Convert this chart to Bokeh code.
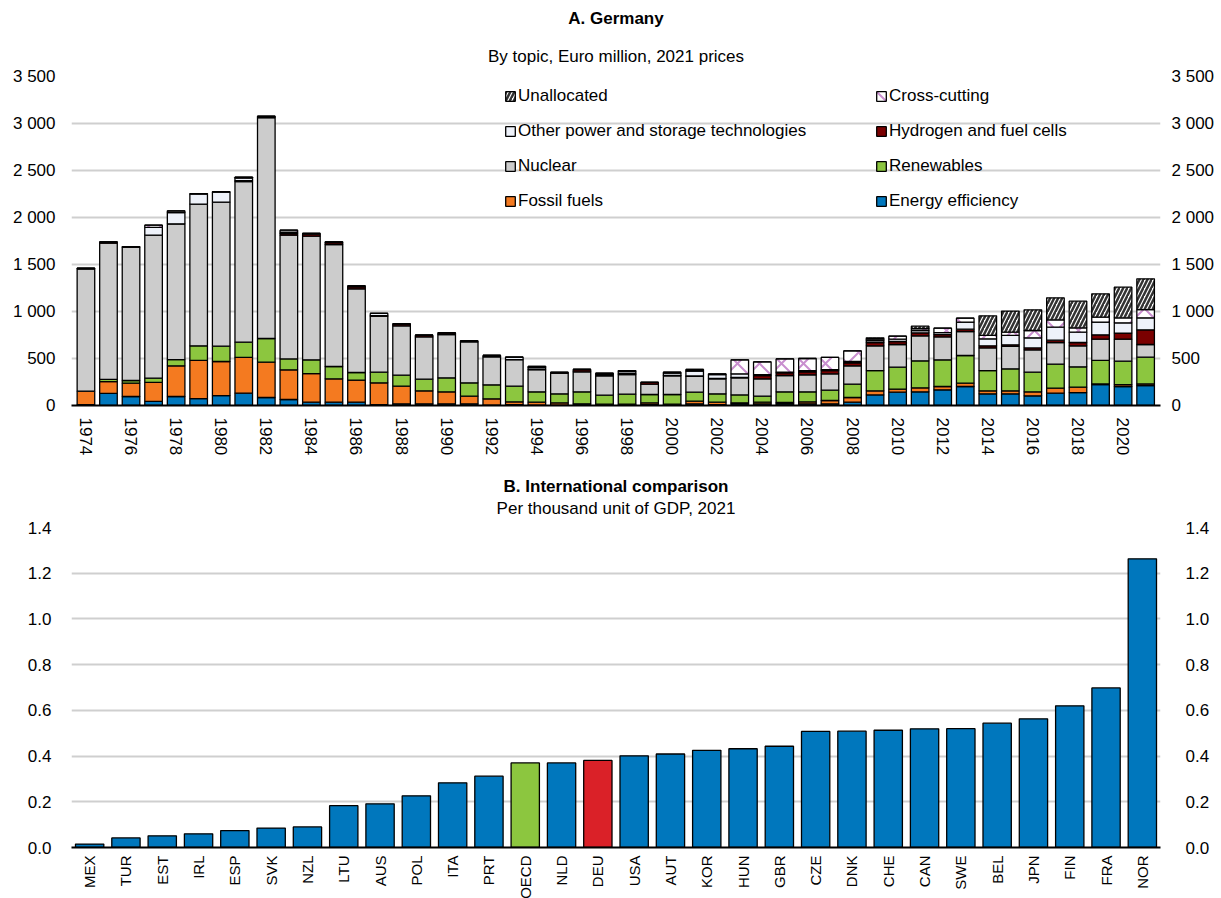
import math
from bokeh.plotting import figure
from bokeh.models import (ColumnDataSource, FixedTicker, Legend, LegendItem, Title,
                          NumeralTickFormatter, LinearAxis, Range1d, FactorRange)
from bokeh.layouts import column
from bokeh.embed import file_html
from bokeh.resources import INLINE
from bokeh.transform import stack

FONT = "Liberation Sans"

# ---------------- Panel A data (Euro million, 2021 prices) ----------------
years = list(range(1974, 2022))
energy_efficiency = [10, 128, 96, 43, 96, 74, 106, 131, 85, 64, 35, 35, 35, 10, 18, 18, 18, 18, 5, 10,
                     5, 5, 18, 5, 5, 10, 5, 18, 10, 18, 18, 18, 18, 18, 35, 113, 142, 145, 167, 202,
                     124, 124, 103, 131, 138, 223, 202, 213]
fossil_fuels = [142, 127, 142, 202, 326, 405, 362, 380, 376, 315, 305, 249, 235, 231, 188, 138, 127, 81, 66, 29,
                30, 23, 0, 9, 9, 18, 9, 28, 25, 10, 17, 14, 21, 35, 50, 43, 32, 43, 35, 36,
                32, 32, 42, 53, 57, 7, 21, 17]
renewables = [0, 22, 28, 46, 67, 156, 163, 163, 252, 117, 146, 131, 81, 114, 117, 124, 149, 142, 149, 167,
              110, 96, 127, 96, 106, 89, 103, 96, 89, 85, 64, 113, 106, 110, 142, 216, 234, 287, 284, 294,
              216, 234, 210, 256, 216, 249, 249, 284]
nuclear = [1302, 1450, 1418, 1521, 1444, 1507, 1532, 1709, 2351, 1316, 1315, 1298, 890, 595, 525, 450, 461, 436, 298, 283,
           238, 220, 213, 206, 210, 110, 199, 167, 160, 181, 185, 174, 181, 174, 195, 263, 241, 266, 244, 255,
           241, 238, 237, 230, 224, 227, 234, 135]
hydrogen = [0, 8, 4, 0, 0, 0, 0, 10, 0, 18, 22, 20, 22, 5, 21, 18, 18, 11, 14, 0,
            0, 7, 25, 4, 10, 18, 5, 5, 5, 5, 35, 29, 32, 35, 32, 35, 32, 32, 25, 25,
            22, 17, 21, 25, 35, 46, 64, 156]
other_power = [4, 6, 2, 82, 120, 106, 107, 25, 10, 15, 7, 8, 10, 24, 0, 0, 0, 0, 0, 25,
               21, 0, 0, 14, 21, 0, 24, 53, 39, 38, 10, 8, 12, 10, 14, 21, 25, 25, 21, 75,
               74, 100, 107, 138, 110, 135, 109, 128]
cross_cutting = [2, 0, 0, 24, 18, 7, 5, 11, 4, 20, 0, 0, 0, 0, 0, 0, 0, 0, 0, 0,
                 11, 0, 0, 10, 11, 0, 10, 16, 9, 149, 136, 140, 130, 129, 114, 15, 32, 21, 47, 42,
                 36, 35, 78, 78, 46, 53, 54, 88]
unallocated = [0, 0, 0, 0, 0, 0, 0, 0, 0, 0, 0, 0, 0, 0, 0, 0, 0, 0, 0, 0,
               0, 0, 0, 0, 0, 0, 0, 0, 0, 0, 0, 0, 0, 0, 0, 14, 0, 25, 0, 0,
               209, 224, 220, 234, 284, 248, 326, 327]
a_ticks = [0, 500, 1000, 1500, 2000, 2500, 3000, 3500]
a_tick_labels = ["0", "500", "1 000", "1 500", "2 000", "2 500", "3 000", "3 500"]
year_ticks = [1974, 1976, 1978, 1980, 1982, 1984, 1986, 1988, 1990, 1992, 1994, 1996, 1998,
              2000, 2002, 2004, 2006, 2008, 2010, 2012, 2014, 2016, 2018, 2020]

# ---------------- Panel B data (per thousand unit of GDP, 2021) ----------------
countries = ["MEX", "TUR", "EST", "IRL", "ESP", "SVK", "NZL", "LTU", "AUS", "POL", "ITA", "PRT", "OECD",
             "NLD", "DEU", "USA", "AUT", "KOR", "HUN", "GBR", "CZE", "DNK", "CHE", "CAN", "SWE", "BEL",
             "JPN", "FIN", "FRA", "NOR"]
country_values = [0.015, 0.042, 0.051, 0.060, 0.074, 0.085, 0.090, 0.183, 0.191, 0.226, 0.283, 0.312, 0.370,
                  0.370, 0.381, 0.401, 0.409, 0.425, 0.432, 0.443, 0.508, 0.509, 0.513, 0.519, 0.520, 0.544,
                  0.563, 0.620, 0.698, 1.263]
b_ticks = [0.0, 0.2, 0.4, 0.6, 0.8, 1.0, 1.2, 1.4]

# ---------------- styles ----------------
BLUE = "#0077bd"
ORANGE = "#f47a20"
GREEN = "#8cc63f"
GRAY = "#cccccc"
DARKRED = "#7a0000"
LIGHT = "#eef2fa"
RED = "#da2128"
GRID = "#cfcfcf"

layers = [
    ("ee", "Energy efficiency", energy_efficiency, dict(fill_color=BLUE)),
    ("ff", "Fossil fuels", fossil_fuels, dict(fill_color=ORANGE)),
    ("ren", "Renewables", renewables, dict(fill_color=GREEN)),
    ("nuc", "Nuclear", nuclear, dict(fill_color=GRAY)),
    ("h2", "Hydrogen and fuel cells", hydrogen, dict(fill_color=DARKRED)),
    ("oth", "Other power and storage technologies", other_power, dict(fill_color=LIGHT)),
    ("cc", "Cross-cutting", cross_cutting, dict(fill_color="white", hatch_pattern="diagonal_cross",
                                                hatch_color="#c98fcf", hatch_weight=2, hatch_scale=22)),
    ("un", "Unallocated", unallocated, dict(fill_color="white", hatch_pattern="right_diagonal_line",
                                            hatch_color="#333333", hatch_weight=2.5, hatch_scale=8)),
]

data = {"year": years}
for key, _, vals, _ in layers:
    data[key] = vals
src = ColumnDataSource(data)


def style_axis(ax, size="17px", standoff=5):
    ax.axis_line_color = None
    ax.major_tick_line_color = None
    ax.minor_tick_line_color = None
    ax.major_label_text_font = FONT
    ax.major_label_text_font_size = size
    ax.major_label_text_color = "black"
    ax.major_label_standoff = standoff


def add_titles(p, title, subtitle, sub_standoff, title_standoff, offset):
    p.add_layout(Title(text=subtitle, align="center", text_font=FONT, text_font_size="17px",
                       text_font_style="normal", text_color="black", standoff=sub_standoff,
                       offset=offset), "above")
    p.add_layout(Title(text=title, align="center", text_font=FONT, text_font_size="17px",
                       text_font_style="bold", text_color="black", standoff=title_standoff,
                       offset=offset), "above")


# ---------------- Panel A ----------------
p1 = figure(frame_width=1089, frame_height=329, x_range=Range1d(1973.36, 2021.66),
            y_range=Range1d(0, 3500), output_backend="svg", toolbar_location=None, title=None,
            min_border_left=71, min_border_right=58, min_border_top=76, min_border_bottom=0)
p1.outline_line_color = None
p1.background_fill_color = "white"
add_titles(p1, "A. Germany", "By topic, Euro million, 2021 prices", 22, 12, -10)

p1.xgrid.grid_line_color = None
p1.ygrid.grid_line_color = GRID
p1.ygrid.grid_line_width = 2
p1.ygrid.ticker = FixedTicker(ticks=a_ticks)

renderers = {}
keys = [l[0] for l in layers]
for i, (key, name, _, st) in enumerate(layers):
    bottom = stack(*keys[:i]) if i > 0 else 0
    r = p1.vbar(x="year", width=0.78, bottom=bottom, top=stack(*keys[:i + 1]), source=src,
                line_color="black", line_width=1.3, **st)
    renderers[name] = r

yl = p1.yaxis[0]
yl.ticker = FixedTicker(ticks=a_ticks)
yl.major_label_overrides = {t: s for t, s in zip(a_ticks, a_tick_labels)}
style_axis(yl, standoff=10)
yr = LinearAxis(ticker=FixedTicker(ticks=a_ticks),
                major_label_overrides={t: s for t, s in zip(a_ticks, a_tick_labels)})
style_axis(yr, standoff=5)
p1.add_layout(yr, "right")

xa = p1.xaxis[0]
xa.ticker = FixedTicker(ticks=year_ticks)
style_axis(xa, standoff=6)
xa.axis_line_color = "black"
xa.axis_line_width = 2
xa.major_label_orientation = "vertical"

col1 = ["Unallocated", "Other power and storage technologies", "Nuclear", "Fossil fuels"]
col2 = ["Cross-cutting", "Hydrogen and fuel cells", "Renewables", "Energy efficiency"]
for names, xloc in ((col1, 433), (col2, 804)):
    lg = Legend(items=[LegendItem(label=n, renderers=[renderers[n]]) for n in names],
                location=(xloc, 194), orientation="vertical",
                glyph_width=12, glyph_height=12, label_height=20, spacing=15,
                padding=0, margin=0, label_standoff=2,
                label_text_font=FONT, label_text_font_size="17px", label_text_color="black",
                border_line_color=None, background_fill_alpha=0)
    p1.add_layout(lg, "center")

# ---------------- Panel B ----------------
colors = [GREEN if c == "OECD" else RED if c == "DEU" else BLUE for c in countries]
src2 = ColumnDataSource(dict(country=countries, value=country_values, color=colors))
p2 = figure(frame_width=1089, frame_height=320, x_range=FactorRange(*countries, range_padding=0),
            y_range=Range1d(0, 1.4), output_backend="svg", toolbar_location=None, title=None,
            min_border_left=71, min_border_right=58, min_border_top=69, min_border_bottom=0)
p2.outline_line_color = None
add_titles(p2, "B. International comparison", "Per thousand unit of GDP, 2021", 20, -18, -4)
p2.xgrid.grid_line_color = None
p2.ygrid.grid_line_color = GRID
p2.ygrid.grid_line_width = 2
p2.ygrid.ticker = FixedTicker(ticks=b_ticks)
p2.vbar(x="country", top="value", width=0.78, source=src2, fill_color="color",
        line_color="black", line_width=1.3)

bl = p2.yaxis[0]
bl.ticker = FixedTicker(ticks=b_ticks)
bl.formatter = NumeralTickFormatter(format="0.0")
style_axis(bl, standoff=14)
br = LinearAxis(ticker=FixedTicker(ticks=b_ticks), formatter=NumeralTickFormatter(format="0.0"))
style_axis(br, standoff=19)
p2.add_layout(br, "right")

xb = p2.xaxis[0]
style_axis(xb, size="15px", standoff=2)
xb.axis_line_color = "black"
xb.axis_line_width = 2
xb.major_label_orientation = math.pi / 2

layout = column(p1, p2, spacing=0)
open("out.html", "w").write(file_html(layout, INLINE))
